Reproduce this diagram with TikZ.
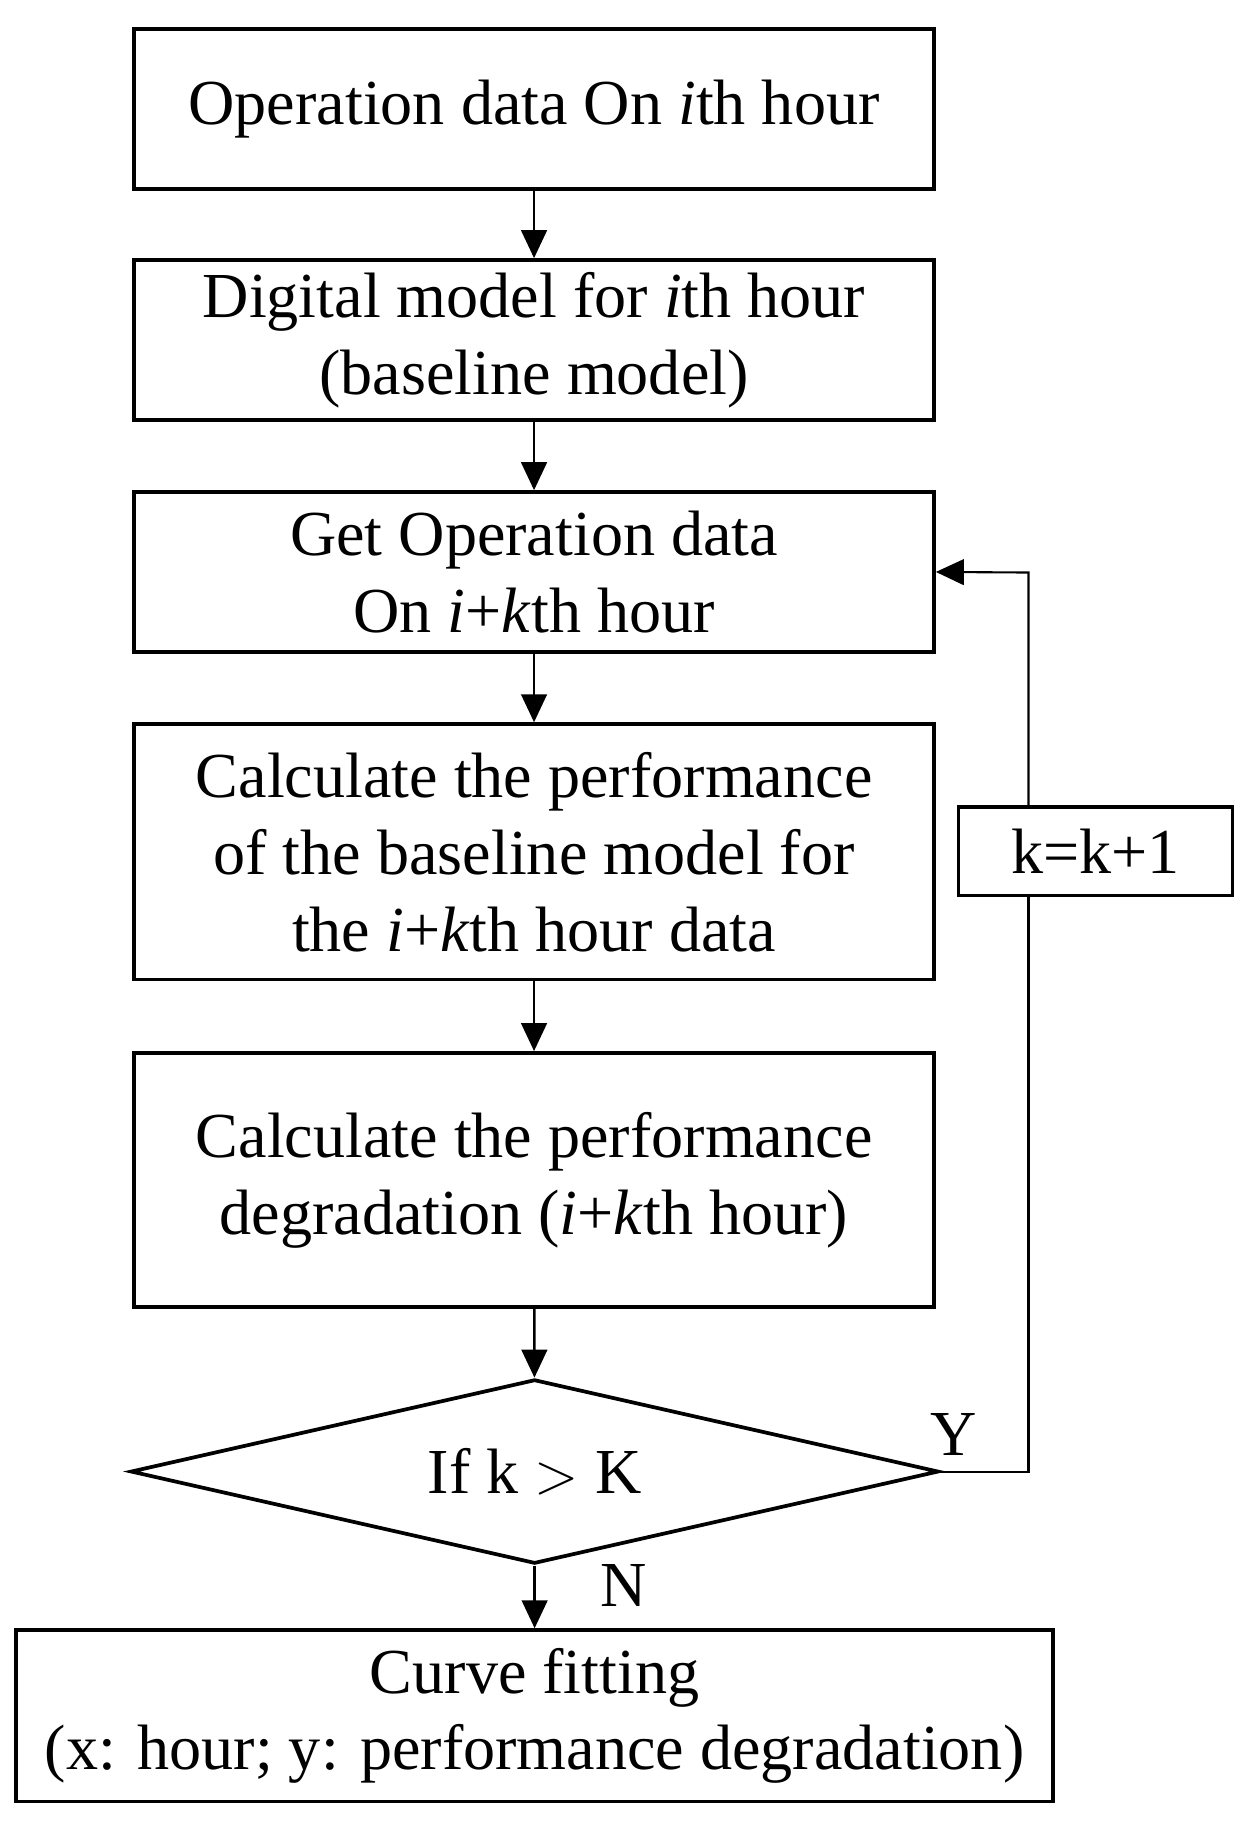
\documentclass[tikz,border=0pt]{standalone}
\usepackage{fontspec}
\setmainfont{Liberation Serif}
\usetikzlibrary{shapes.geometric,arrows.meta}
\begin{document}
\begin{tikzpicture}[x=0.5pt,y=-0.5pt,
  box/.style={draw,line width=1.6pt,minimum width=343pt,align=center,font=\fontsize{27.5}{33}\selectfont,inner sep=0pt},
  arr/.style={line width=1.1pt,-{Triangle[length=12pt,width=11pt]}},
  lbl/.style={font=\fontsize{27.5}{30}\selectfont}]
\useasboundingbox (0,0) rectangle (1080,1578);
\node[box,minimum height=68.5pt] (b1) at (458,93.5) {Operation data On \textit{i}th hour};
\node[box,minimum height=68.5pt] (b2) at (458,291.5) {Digital model for \textit{i}th hour\\(baseline model)};
\node[box,minimum height=68.5pt] (b3) at (458,490.5) {Get Operation data\\On \textit{i}+\textit{k}th hour};
\node[box,minimum height=109.5pt] (b4) at (458,730.5) {Calculate the performance\\of the baseline model for\\the \textit{i}+\textit{k}th hour data};
\node[box,minimum height=109pt] (b5) at (458,1012) {Calculate the performance\\degradation (\textit{i}+\textit{k}th hour)};
\node[draw,line width=1.6pt,diamond,aspect=4.38,minimum width=346.5pt,minimum height=79pt,inner sep=0pt,font=\fontsize{27.5}{30}\selectfont] (d) at (458.5,1262) {If k $>$ K};
\node[box,minimum width=444.5pt,minimum height=73.5pt] (b6) at (458.5,1471.5) {Curve fitting\\(x: hour; y: performance degradation)};
\node[draw,line width=1.6pt,minimum width=117.5pt,minimum height=38pt,inner sep=0pt,font=\fontsize{27.5}{30}\selectfont] (k) at (939.5,730) {k=k+1};
\coordinate (c1) at (882,1262);
\coordinate (c2) at (882,491);
\draw[arr] (b1) -- (b2);
\draw[arr] (b2) -- (b3);
\draw[arr] (b3) -- (b4);
\draw[arr] (b4) -- (b5);
\draw[arr] (b5) -- (d);
\draw[arr] (d) -- (b6);
\draw[line width=0.9pt] (d.east) -- (c1) -- (c1 |- k.south);
\draw[line width=0.9pt,-{Triangle[length=12pt,width=11pt]}] (c2 |- k.north) -- (c2) -- (b3.east);
\node[lbl] (y) at (818,1230) {Y};
\node[lbl] (n) at (535,1360) {N};
\end{tikzpicture}
\end{document}
